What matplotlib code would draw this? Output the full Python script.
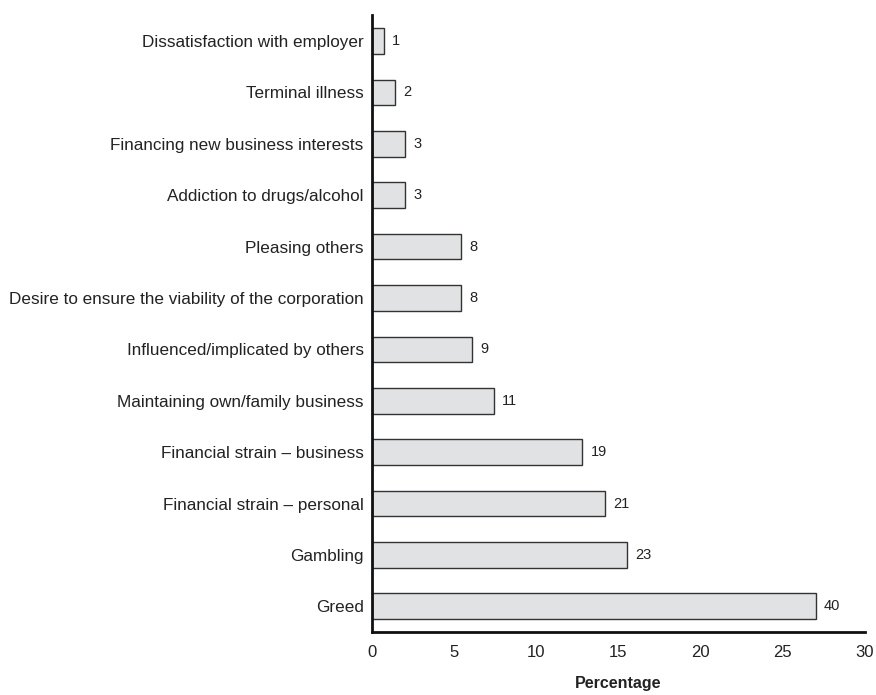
import matplotlib.pyplot as plt

# categories from top to bottom
reasons = [
    "Dissatisfaction with employer",
    "Terminal illness",
    "Financing new business interests",
    "Addiction to drugs/alcohol",
    "Pleasing others",
    "Desire to ensure the viability of the corporation",
    "Influenced/implicated by others",
    "Maintaining own/family business",
    "Financial strain \u2013 business",
    "Financial strain \u2013 personal",
    "Gambling",
    "Greed",
]
# bar lengths as drawn against the axis
bar_lengths = [0.7, 1.4, 2.0, 2.0, 5.4, 5.4, 6.1, 7.4, 12.8, 14.2, 15.5, 27.0]
# numbers printed next to the bars
bar_labels = [1, 2, 3, 3, 8, 8, 9, 11, 19, 21, 23, 40]
x_ticks = [0, 5, 10, 15, 20, 25, 30]

plt.rcParams['font.family'] = ['Liberation Sans', 'DejaVu Sans']

fig = plt.figure(figsize=(8.76, 6.95), dpi=100)
ax = fig.add_axes([0.4247, 0.0906, 0.5627, 0.8874])

ypos = list(range(len(reasons)))
ax.barh(ypos, bar_lengths, height=0.5, color='#e1e2e3', edgecolor='#333333', linewidth=1.0)

for y, w, lab in zip(ypos, bar_lengths, bar_labels):
    ax.text(w + 0.5, y, str(lab), va='center', ha='left', fontsize=10.5, color='#222222')

ax.set_ylim(len(reasons) - 0.5, -0.5)
ax.set_xlim(0, 30)
ax.set_yticks(ypos)
ax.set_yticklabels(reasons, fontsize=12.3, color='#222222')
ax.set_xticks(x_ticks)
ax.set_xticklabels([str(t) for t in x_ticks], fontsize=12, color='#222222')
ax.tick_params(axis='both', length=0)
ax.tick_params(axis='x', pad=9)
ax.tick_params(axis='y', pad=6)

for side in ['top', 'right']:
    ax.spines[side].set_visible(False)
for side in ['left', 'bottom']:
    ax.spines[side].set_linewidth(2)
    ax.spines[side].set_color('#111111')

ax.set_xlabel("Percentage", fontsize=11.5, fontweight='bold', labelpad=12, color='#222222')

fig.savefig("out.png", dpi=100)
